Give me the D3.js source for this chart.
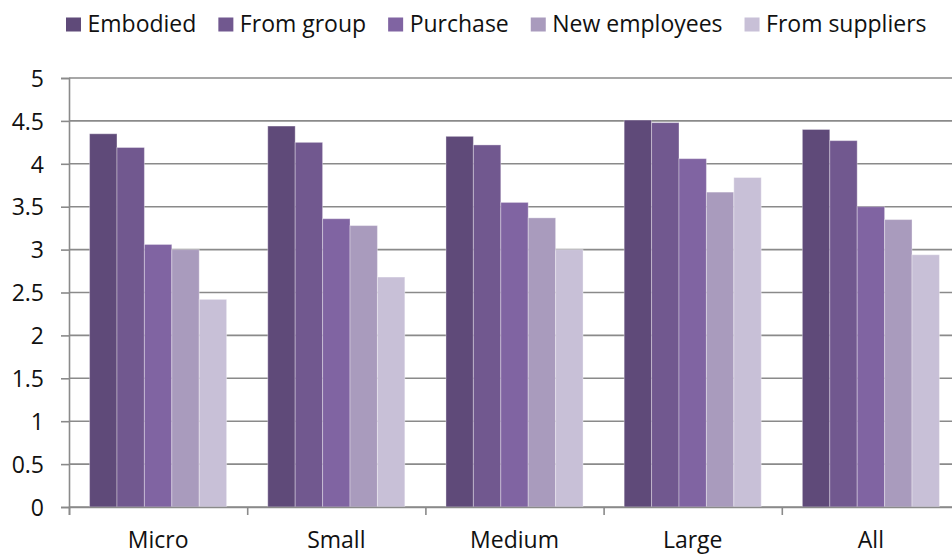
<!DOCTYPE html>
<html>
<head>
<meta charset="utf-8">
<script src="https://cdn.jsdelivr.net/npm/d3@7/dist/d3.min.js"></script>
<style>
  html, body { margin: 0; padding: 0; background: #fff; }
  svg { display: block; }
  text { font-family: "Open Sans", "Noto Sans", sans-serif; fill: #111; }
</style>
</head>
<body>
<svg id="chart" width="952" height="554"></svg>
<script>
// Firm size classes and knowledge-source series
const categories = ["Micro", "Small", "Medium", "Large", "All"];
const seriesNames = ["Embodied", "From group", "Purchase", "New employees", "From suppliers"];
const embodied      = [4.35, 4.44, 4.32, 4.51, 4.40];
const fromGroup     = [4.19, 4.25, 4.22, 4.48, 4.27];
const purchase      = [3.06, 3.36, 3.55, 4.06, 3.50];
const newEmployees  = [3.00, 3.28, 3.37, 3.67, 3.35];
const fromSuppliers = [2.42, 2.68, 3.00, 3.84, 2.94];
const yTicks = [0, 0.5, 1, 1.5, 2, 2.5, 3, 3.5, 4, 4.5, 5];
const colors = ["#5f4a79", "#71588f", "#8064a2", "#a99bbd", "#c8c0d7"];

const seriesValues = [embodied, fromGroup, purchase, newEmployees, fromSuppliers];

const svg = d3.select("#chart");
const plotLeft = 69, plotRight = 960, plotTop = 78, plotBottom = 507;
const fontSize = "23px";

const y = d3.scaleLinear().domain([0, 5]).range([plotBottom, plotTop]);
const x0 = d3.scaleBand().domain(categories).range([plotLeft, plotRight]).padding(0);
const gapRatio = 0.3 / 1.3;
const x1 = d3.scaleBand().domain(seriesNames)
  .range([x0.bandwidth() * gapRatio / 2, x0.bandwidth() * (1 - gapRatio / 2)])
  .padding(0);

// Horizontal gridlines
svg.append("g")
  .selectAll("line")
  .data(yTicks)
  .join("line")
  .attr("x1", plotLeft).attr("x2", 952)
  .attr("y1", d => y(d)).attr("y2", d => y(d))
  .attr("stroke", "#8a8a8a")
  .attr("stroke-width", 1.6);

// Bars
const groups = svg.append("g")
  .selectAll("g")
  .data(categories)
  .join("g")
  .attr("transform", d => `translate(${x0(d)},0)`);

groups.selectAll("rect")
  .data((c, ci) => seriesNames.map((s, si) => ({ s, si, v: seriesValues[si][ci] })))
  .join("rect")
  .attr("x", d => x1(d.s))
  .attr("width", x1.bandwidth())
  .attr("y", d => y(d.v))
  .attr("height", d => y(0) - y(d.v))
  .attr("fill", d => colors[d.si])
  .attr("stroke", "#ffffff")
  .attr("stroke-opacity", 0.35)
  .attr("stroke-width", 1);

// Y axis
const yAxis = svg.append("g")
  .attr("transform", `translate(${plotLeft},0)`)
  .call(d3.axisLeft(y).tickValues(yTicks).tickSize(8).tickPadding(17)
    .tickFormat(d3.format("")));
yAxis.select(".domain").attr("stroke", "#8a8a8a").attr("stroke-width", 1.6);
yAxis.selectAll(".tick line").attr("stroke", "#8a8a8a").attr("stroke-width", 1.6);
yAxis.selectAll("text")
  .style("font-size", fontSize)
  .attr("fill", "#111")
  .attr("dy", "0.36em");

// X axis: tick marks on category boundaries
const xb = d3.scaleLinear().domain([0, categories.length]).range([plotLeft, plotRight]);
const xTicks = svg.append("g")
  .attr("transform", `translate(0,${plotBottom})`)
  .call(d3.axisBottom(xb).tickValues(d3.range(categories.length + 1)).tickSize(8).tickFormat(""));
xTicks.select(".domain").attr("stroke", "#8a8a8a").attr("stroke-width", 1.6);
xTicks.selectAll(".tick line").attr("stroke", "#8a8a8a").attr("stroke-width", 1.6);

// X axis: category labels centred in each band
const xLabels = svg.append("g")
  .attr("transform", `translate(0,${plotBottom})`)
  .call(d3.axisBottom(x0).tickSize(0).tickPadding(25));
xLabels.select(".domain").remove();
xLabels.selectAll("text")
  .style("font-size", fontSize)
  .attr("fill", "#111")
  .attr("dy", "0.71em");

// Legend
const legend = svg.append("g");
let lx = 66;
seriesNames.forEach((name, i) => {
  const item = legend.append("g").attr("transform", `translate(${lx},0)`);
  item.append("rect")
    .attr("x", 0).attr("y", 17.5)
    .attr("width", 15).attr("height", 14)
    .attr("fill", colors[i]);
  const t = item.append("text")
    .attr("x", 21.5).attr("y", 31.5)
    .style("font-size", fontSize)
    .text(name);
  lx += 21.5 + t.node().getComputedTextLength() + 22;
});
</script>
</body>
</html>
